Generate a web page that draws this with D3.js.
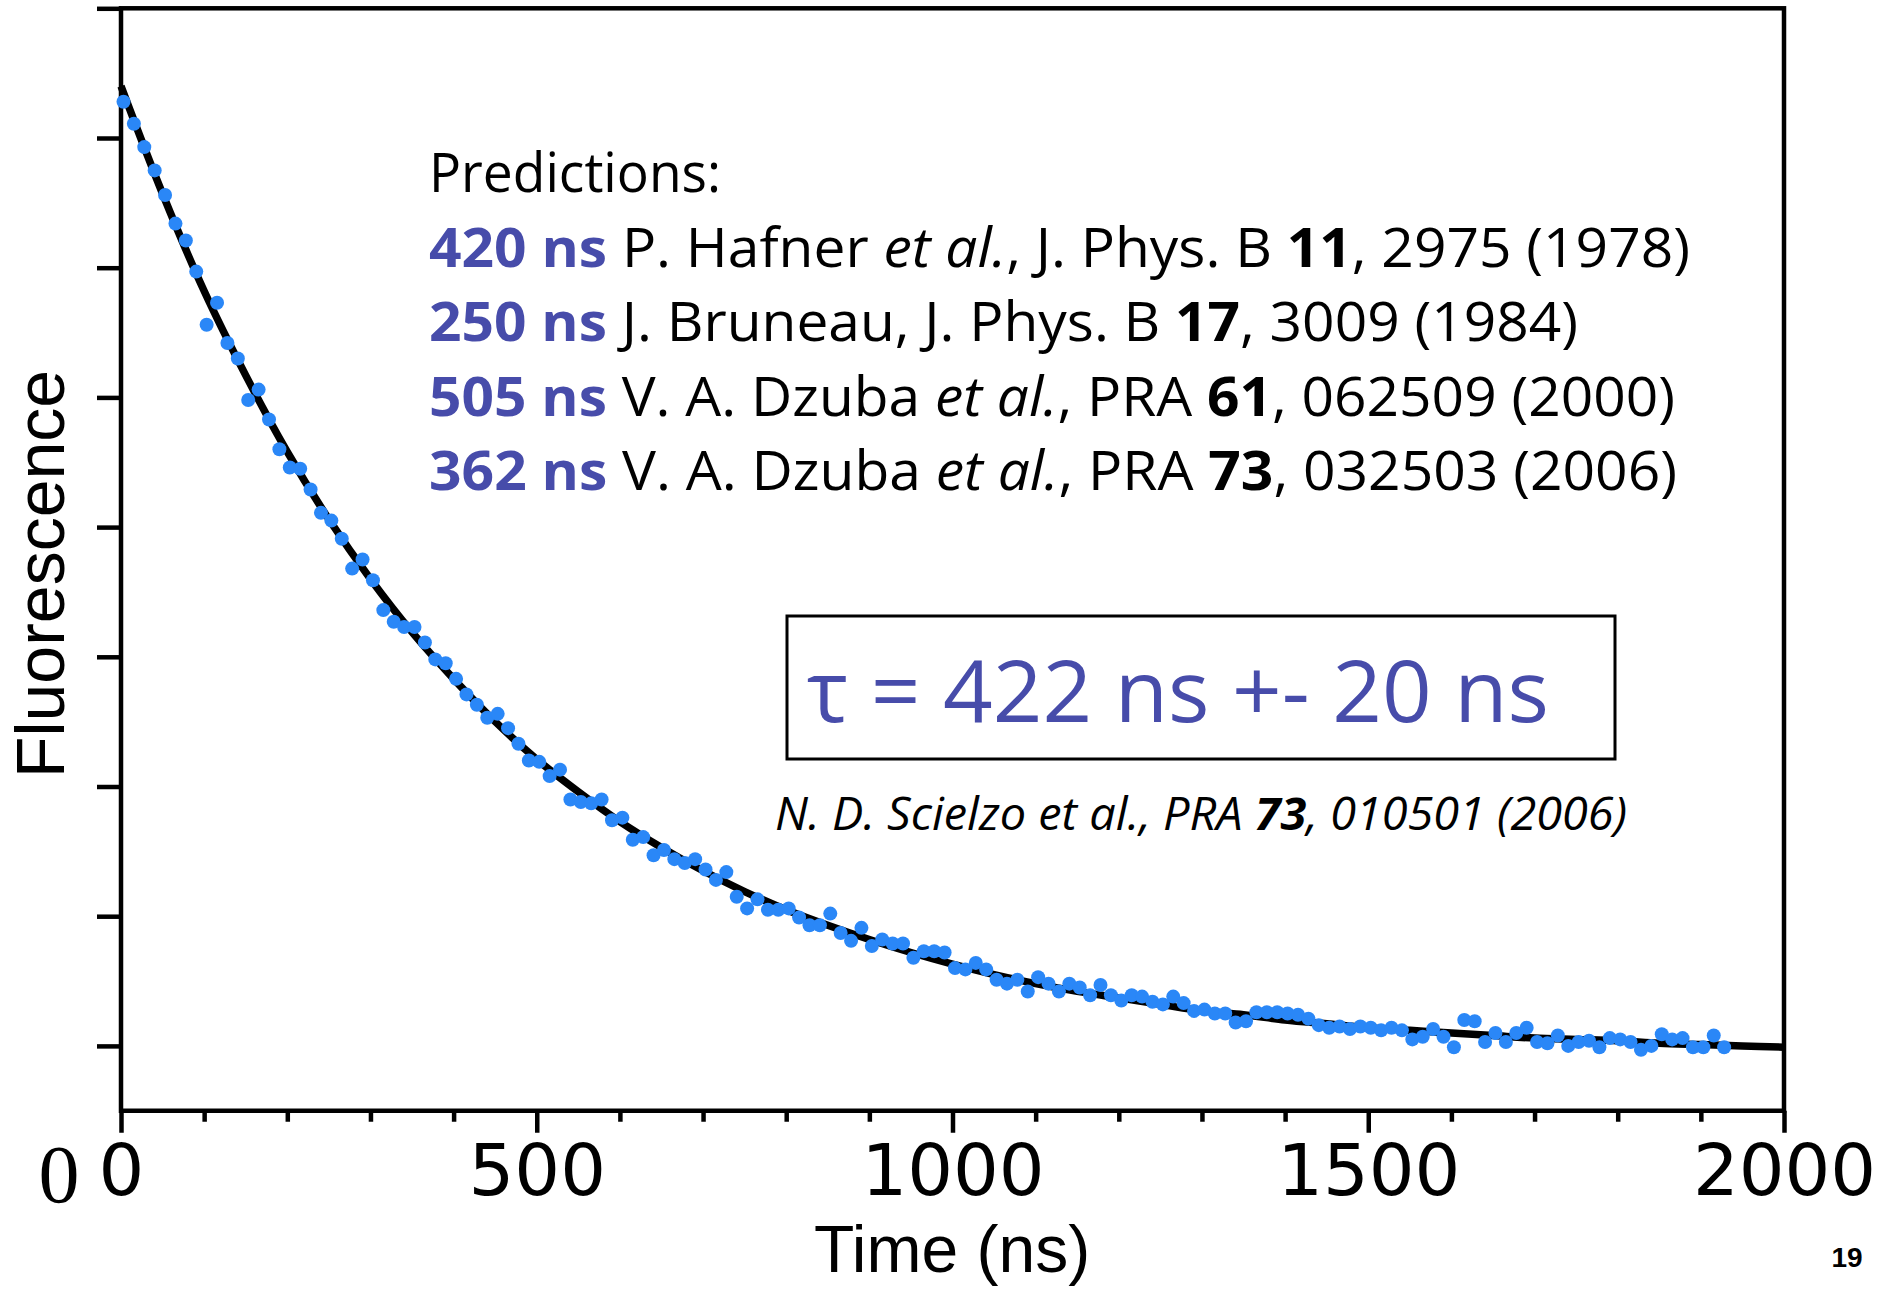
<!DOCTYPE html>
<html>
<head>
    <script src="https://d3js.org/d3.v7.min.js" charset="utf-8"></script>
    <style>
        body { margin: 0; background: #fff; }
    </style>
</head>
<body>
    <script>
        // measured fluorescence, one sample every 12.5 ns starting at 3 ns
        var sampleStart = 3, sampleStep = 12.5;
        var fluorescence = [
            7.28, 7.11, 6.93, 6.75, 6.56, 6.34, 6.21, 5.97, 5.56, 5.73,
            5.42, 5.30, 4.98, 5.06, 4.83, 4.60, 4.46, 4.45, 4.29, 4.11,
            4.05, 3.91, 3.68, 3.75, 3.59, 3.36, 3.27, 3.23, 3.23, 3.11,
            2.98, 2.95, 2.83, 2.71, 2.63, 2.53, 2.56, 2.45, 2.33, 2.20,
            2.19, 2.08, 2.13, 1.90, 1.88, 1.87, 1.90, 1.74, 1.76, 1.59,
            1.61, 1.47, 1.51, 1.44, 1.41, 1.44, 1.36, 1.28, 1.34, 1.15,
            1.06, 1.13, 1.05, 1.05, 1.06, 0.99, 0.93, 0.93, 1.02, 0.87,
            0.81, 0.91, 0.77, 0.82, 0.79, 0.79, 0.68, 0.73, 0.73, 0.72,
            0.60, 0.59, 0.64, 0.59, 0.51, 0.48, 0.51, 0.42, 0.53, 0.48,
            0.42, 0.48, 0.45, 0.39, 0.47, 0.39, 0.35, 0.39, 0.38, 0.34,
            0.32, 0.38, 0.33, 0.27, 0.28, 0.25, 0.25, 0.18, 0.19, 0.26,
            0.26, 0.26, 0.25, 0.24, 0.21, 0.16, 0.14, 0.15, 0.13, 0.15,
            0.14, 0.12, 0.14, 0.12, 0.05, 0.07, 0.13, 0.07, -0.01, 0.20,
            0.19, 0.03, 0.10, 0.03, 0.10, 0.14, 0.03, 0.02, 0.08, 0.00,
            0.03, 0.04, -0.01, 0.06, 0.05, 0.03, -0.03, 0.00, 0.09, 0.05,
            0.06, -0.01, -0.01, 0.08, -0.01
        ];

        // fitted decay curve
        var fitTimes = [0, 50, 100, 150, 200, 250, 300, 350, 400, 450, 500,
            550, 600, 650, 700, 750, 800, 850, 900, 950, 1000,
            1050, 1100, 1150, 1200, 1250, 1300, 1350, 1400, 1450, 1500,
            1550, 1600, 1650, 1700, 1750, 1800, 1850, 1900, 1950, 2000];
        var fitValues = [7.40, 6.57, 5.82, 5.17, 4.58, 4.06, 3.60, 3.19, 2.83, 2.50, 2.21,
            1.96, 1.73, 1.53, 1.35, 1.19, 1.05, 0.93, 0.82, 0.72, 0.63,
            0.55, 0.48, 0.42, 0.37, 0.32, 0.27, 0.24, 0.20, 0.17, 0.14,
            0.12, 0.10, 0.08, 0.06, 0.05, 0.04, 0.02, 0.01, 0.00, -0.01];

        var xMajorTicks = [0, 500, 1000, 1500, 2000];
        var xMinorTicks = [100, 200, 300, 400, 600, 700, 800, 900, 1100, 1200,
            1300, 1400, 1600, 1700, 1800, 1900];
        var yTicks = [0, 1, 2, 3, 4, 5, 6, 7, 8];

        var blue = "#474caa", dotBlue = "#2a87f7";
        var textFont = "'Open Sans', 'Noto Sans', sans-serif";

        var svg = d3.select("body")
            .append("svg")
            .attr("width", 1896)
            .attr("height", 1290)
            .style("display", "block");

        var x = d3.scaleLinear().domain([0, 2000]).range([121, 1784]);
        var y = d3.scaleLinear().domain([-0.5, 8]).range([1110.75, 8.3]);

        // frame
        svg.append("rect")
            .attr("x", x(0)).attr("y", y(8))
            .attr("width", x(2000) - x(0))
            .attr("height", y(-0.5) - y(8))
            .attr("fill", "none")
            .attr("stroke", "black")
            .attr("stroke-width", 4.5);

        // y ticks, unlabeled
        var yAxis = svg.append("g")
            .attr("transform", "translate(" + x(0) + ",0)")
            .call(d3.axisLeft(y).tickValues(yTicks).tickSize(24).tickFormat(""));
        yAxis.select(".domain").remove();
        yAxis.selectAll("line").attr("stroke-width", 4.5);

        // x minor ticks
        var xMinor = svg.append("g")
            .attr("transform", "translate(0," + y(-0.5) + ")")
            .call(d3.axisBottom(x).tickValues(xMinorTicks).tickSize(11).tickFormat(""));
        xMinor.select(".domain").remove();
        xMinor.selectAll("line").attr("stroke-width", 4.5);

        // x major ticks with labels
        var xMajor = svg.append("g")
            .attr("transform", "translate(0," + y(-0.5) + ")")
            .call(d3.axisBottom(x).tickValues(xMajorTicks).tickSize(22).tickFormat(d3.format("d")));
        xMajor.select(".domain").remove();
        xMajor.selectAll("line").attr("stroke-width", 4.5);
        xMajor.selectAll("text")
            .attr("y", 1195 - y(-0.5))
            .attr("dy", null)
            .attr("fill", "black")
            .style("font-family", "'DejaVu Sans', sans-serif")
            .style("font-size", "72px");

        // stray serif zero left of the axis
        svg.append("text")
            .attr("x", 59).attr("y", 1202)
            .attr("text-anchor", "middle")
            .style("font-family", "'Liberation Serif', 'Times New Roman', serif")
            .style("font-size", "82px")
            .text("0");

        // axis titles
        svg.append("text")
            .attr("x", 952).attr("y", 1272)
            .attr("text-anchor", "middle")
            .style("font-family", "'Liberation Sans', Arial, sans-serif")
            .style("font-size", "66px")
            .text("Time (ns)");

        svg.append("text")
            .attr("transform", "translate(64,574) rotate(-90)")
            .attr("text-anchor", "middle")
            .style("font-family", "'Liberation Sans', Arial, sans-serif")
            .style("font-size", "68px")
            .text("Fluorescence");

        svg.append("text")
            .attr("x", 1847).attr("y", 1267)
            .attr("text-anchor", "middle")
            .style("font-family", "'Liberation Sans', Arial, sans-serif")
            .style("font-weight", "bold")
            .style("font-size", "28px")
            .text("19");

        // fit curve
        var line = d3.line()
            .x(function (d, i) { return x(fitTimes[i]); })
            .y(function (d) { return y(d); })
            .curve(d3.curveCatmullRom);
        svg.append("path")
            .datum(fitValues)
            .attr("d", line)
            .attr("fill", "none")
            .attr("stroke", "black")
            .attr("stroke-width", 7.5);

        // data points
        svg.selectAll("circle.pt")
            .data(fluorescence)
            .enter()
            .append("circle")
            .attr("class", "pt")
            .attr("cx", function (d, i) { return x(sampleStart + sampleStep * i); })
            .attr("cy", function (d) { return y(d); })
            .attr("r", 7)
            .attr("fill", dotBlue);

        // predictions block
        var predictions = [
            { lead: "Predictions:", leadBlue: false, rest: [], width: 292 },
            { lead: "420 ns", rest: [[" P. Hafner ", ""], ["et al.", "i"], [", J. Phys. B ", ""], ["11", "b"], [", 2975 (1978)", ""]], width: 1261 },
            { lead: "250 ns", rest: [[" J. Bruneau, J. Phys. B ", ""], ["17", "b"], [", 3009 (1984)", ""]], width: 1149 },
            { lead: "505 ns", rest: [[" V. A. Dzuba ", ""], ["et al.", "i"], [", PRA ", ""], ["61", "b"], [", 062509 (2000)", ""]], width: 1246 },
            { lead: "362 ns", rest: [[" V. A. Dzuba ", ""], ["et al.", "i"], [", PRA ", ""], ["73", "b"], [", 032503 (2006)", ""]], width: 1248 }
        ];
        var baselines = [192, 267, 341, 416, 490];

        predictions.forEach(function (p, k) {
            var t = svg.append("text")
                .attr("x", 429).attr("y", baselines[k])
                .attr("textLength", p.width)
                .attr("lengthAdjust", "spacingAndGlyphs")
                .style("font-family", textFont)
                .style("font-size", "54px")
                .attr("fill", "black");
            var isBlue = p.leadBlue !== false;
            t.append("tspan")
                .attr("fill", isBlue ? blue : "black")
                .style("font-weight", isBlue ? "bold" : "normal")
                .text(p.lead);
            p.rest.forEach(function (r) {
                t.append("tspan")
                    .style("font-style", r[1] === "i" ? "italic" : "normal")
                    .style("font-weight", r[1] === "b" ? "bold" : "normal")
                    .text(r[0]);
            });
        });

        // result box
        svg.append("rect")
            .attr("x", 787).attr("y", 616)
            .attr("width", 828).attr("height", 143)
            .attr("fill", "none")
            .attr("stroke", "black")
            .attr("stroke-width", 3);
        svg.append("text")
            .attr("x", 807).attr("y", 722)
            .attr("textLength", 742)
            .attr("lengthAdjust", "spacingAndGlyphs")
            .attr("fill", blue)
            .style("font-family", textFont)
            .style("font-size", "86px")
            .text("\u03c4 = 422 ns +- 20 ns");

        // citation
        var cite = svg.append("text")
            .attr("x", 775).attr("y", 830)
            .attr("textLength", 852)
            .attr("lengthAdjust", "spacingAndGlyphs")
            .style("font-family", textFont)
            .style("font-style", "italic")
            .style("font-size", "45px");
        cite.append("tspan").text("N. D. Scielzo et al., PRA ");
        cite.append("tspan").style("font-weight", "bold").text("73");
        cite.append("tspan").text(", 010501 (2006)");
    </script>
</body>
</html>
